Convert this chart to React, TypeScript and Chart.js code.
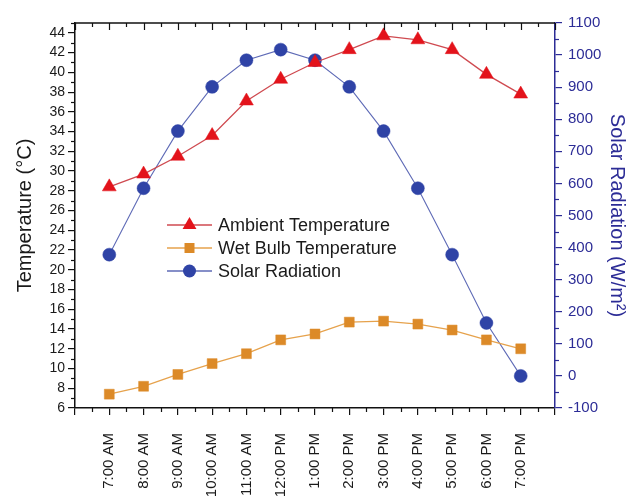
import React, { useEffect, useRef } from 'react';
import { Chart, registerables } from 'chart.js';

Chart.register(...registerables);

// ---- data ----
const timeLabels = ['7:00 AM', '8:00 AM', '9:00 AM', '10:00 AM', '11:00 AM', '12:00 PM', '1:00 PM', '2:00 PM', '3:00 PM', '4:00 PM', '5:00 PM', '6:00 PM', '7:00 PM'];
const ambientTemp = [28.4, 29.7, 31.5, 33.6, 37.1, 39.3, 41.0, 42.3, 43.7, 43.3, 42.3, 39.8, 37.8];
const wetBulbTemp = [7.4, 8.2, 9.4, 10.5, 11.5, 12.9, 13.5, 14.7, 14.8, 14.5, 13.9, 12.9, 12.0];
const solarRadiation = [378, 585, 763, 901, 984, 1017, 984, 901, 763, 585, 378, 165, 0];
const seriesNames = ['Ambient Temperature', 'Wet Bulb Temperature', 'Solar Radiation'];

const tempMin = 6;
const tempMax = 45;
const tempStep = 2;
const solarMin = -100;
const solarMax = 1100;
const solarStep = 100;
const xMin = -1;
const xMax = 13;

// ---- styles ----
const FONT = "'Liberation Sans', Arial, Helvetica, sans-serif";
const NAVY = '#2c2c96';
const RED = '#e3131b';
const RED_LINE = '#cf4a50';
const ORANGE = '#dc8a28';
const ORANGE_LINE = '#e6a24c';
const BLUE = '#2f43a6';
const BLUE_LINE = '#5e6ab6';

const seriesStyles = [
  { line: RED_LINE, fill: RED, shape: 'triangle' },
  { line: ORANGE_LINE, fill: ORANGE, shape: 'rect' },
  { line: BLUE_LINE, fill: BLUE, shape: 'circle' },
];

function drawMarker(ctx: CanvasRenderingContext2D, shape: string, x: number, y: number) {
  ctx.beginPath();
  if (shape === 'triangle') {
    const r = 8;
    ctx.moveTo(x, y - r);
    ctx.lineTo(x + r * 0.866, y + r * 0.5);
    ctx.lineTo(x - r * 0.866, y + r * 0.5);
    ctx.closePath();
  } else if (shape === 'rect') {
    ctx.rect(x - 5, y - 5, 10, 10);
  } else {
    ctx.arc(x, y, 6.5, 0, Math.PI * 2);
  }
  ctx.fill();
}

const framePlugin = {
  id: 'frameTicks',
  afterDraw(chart: any) {
    const { ctx, chartArea: a, scales } = chart;
    const xs = scales.x;
    const ys = scales.y;
    const y1 = scales.y1;
    const seg = (x1: number, yA: number, x2: number, yB: number) => {
      ctx.beginPath();
      ctx.moveTo(x1, yA);
      ctx.lineTo(x2, yB);
      ctx.stroke();
    };
    ctx.save();
    ctx.strokeStyle = '#111';
    ctx.lineWidth = 1.5;
    seg(a.left, a.top, a.right, a.top);
    ctx.lineWidth = 1.2;
    for (let i = xMin; i <= xMax + 0.001; i += 0.5) {
      const px = Math.round(xs.getPixelForValue(i)) + 0.5;
      const major = Math.abs(i - Math.round(i)) < 0.01;
      seg(px, a.top, px, a.top + (major ? 7 : 4));
      if (!major) seg(px, a.bottom, px, a.bottom + 4);
    }
    for (let v = tempMin + 1; v <= tempMax; v += tempStep) {
      const py = Math.round(ys.getPixelForValue(v)) + 0.5;
      seg(a.left - 4, py, a.left, py);
    }
    ctx.strokeStyle = NAVY;
    for (let v = solarMin + solarStep / 2; v < solarMax; v += solarStep) {
      const py = Math.round(y1.getPixelForValue(v)) + 0.5;
      seg(a.right, py, a.right + 4, py);
    }
    ctx.restore();
  },
};

const legendPlugin = {
  id: 'innerLegend',
  afterDraw(chart: any) {
    const { ctx, chartArea: a } = chart;
    ctx.save();
    const x0 = a.left + 92;
    const x1 = a.left + 137;
    const mx = (x0 + x1) / 2;
    const tx = a.left + 143;
    const rows = [a.top + 202, a.top + 225, a.top + 248];
    ctx.font = `18px ${FONT}`;
    ctx.textBaseline = 'middle';
    ctx.textAlign = 'left';
    seriesNames.forEach((name, i) => {
      const s = seriesStyles[i];
      const yy = rows[i];
      ctx.strokeStyle = s.line;
      ctx.lineWidth = 1.3;
      ctx.beginPath();
      ctx.moveTo(x0, yy);
      ctx.lineTo(x1, yy);
      ctx.stroke();
      ctx.fillStyle = s.fill;
      drawMarker(ctx, s.shape, mx, yy);
      ctx.fillStyle = '#1a1a1a';
      ctx.fillText(name, tx, yy + 1);
    });
    ctx.restore();
  },
};

export default function App() {
  const canvasRef = useRef<HTMLCanvasElement | null>(null);

  useEffect(() => {
    if (!canvasRef.current) return;
    const toPts = (arr: number[]) => arr.map((v, i) => ({ x: i, y: v }));
    const chart = new Chart(canvasRef.current, {
      type: 'line',
      data: {
        datasets: [
          {
            label: seriesNames[0],
            data: toPts(ambientTemp),
            yAxisID: 'y',
            borderColor: RED_LINE,
            borderWidth: 1.3,
            backgroundColor: RED,
            pointStyle: 'triangle',
            pointRadius: 8,
            pointBackgroundColor: RED,
            pointBorderColor: RED,
            pointBorderWidth: 0.5,
          },
          {
            label: seriesNames[1],
            data: toPts(wetBulbTemp),
            yAxisID: 'y',
            borderColor: ORANGE_LINE,
            borderWidth: 1.3,
            backgroundColor: ORANGE,
            pointStyle: 'rect',
            pointRadius: 7,
            pointBackgroundColor: ORANGE,
            pointBorderColor: ORANGE,
            pointBorderWidth: 0.5,
          },
          {
            label: seriesNames[2],
            data: toPts(solarRadiation),
            yAxisID: 'y1',
            borderColor: BLUE_LINE,
            borderWidth: 1.1,
            backgroundColor: BLUE,
            pointStyle: 'circle',
            pointRadius: 6.5,
            pointBackgroundColor: BLUE,
            pointBorderColor: BLUE,
            pointBorderWidth: 0.5,
          },
        ],
      },
      options: {
        responsive: false,
        animation: false,
        devicePixelRatio: 1,
        layout: { padding: { top: 11, left: 0, right: 0, bottom: 0 } },
        plugins: { legend: { display: false }, tooltip: { enabled: false } },
        scales: {
          x: {
            type: 'linear',
            min: xMin,
            max: xMax,
            afterFit: (s: any) => { s.height = 110; },
            grid: { display: true, drawOnChartArea: false, drawTicks: true, tickLength: 7, color: '#111', lineWidth: 1.2 },
            border: { display: true, color: '#111', width: 1.5 },
            ticks: {
              stepSize: 1,
              autoSkip: false,
              minRotation: 90,
              maxRotation: 90,
              padding: 18,
              color: '#1a1a1a',
              font: { family: FONT, size: 15 },
              callback: (v: any) => timeLabels[v as number] ?? '',
            },
          },
          y: {
            type: 'linear',
            position: 'left',
            min: tempMin,
            max: tempMax,
            afterFit: (s: any) => { s.width = 67; },
            grid: { display: true, drawOnChartArea: false, drawTicks: true, tickLength: 7, color: '#111', lineWidth: 1.2 },
            border: { display: true, color: '#111', width: 1.5 },
            ticks: {
              stepSize: tempStep,
              includeBounds: false,
              padding: 3,
              color: '#1a1a1a',
              font: { family: FONT, size: 14 },
              callback: (v: any) => String(v),
            },
            title: {
              display: true,
              text: 'Temperature (°C)',
              color: '#1a1a1a',
              font: { family: FONT, size: 20 },
              padding: { top: 5, bottom: 0 },
            },
          },
          y1: {
            type: 'linear',
            position: 'right',
            min: solarMin,
            max: solarMax,
            afterFit: (s: any) => { s.width = 77; },
            grid: { display: true, drawOnChartArea: false, drawTicks: true, tickLength: 7, color: NAVY, lineWidth: 1.2 },
            border: { display: true, color: NAVY, width: 1.5 },
            ticks: {
              stepSize: solarStep,
              padding: 6,
              color: NAVY,
              font: { family: FONT, size: 15 },
              callback: (v: any) => String(v),
            },
            title: {
              display: true,
              text: 'Solar Radiation (W/m²)',
              color: NAVY,
              font: { family: FONT, size: 20 },
              padding: { top: 3, bottom: 0 },
            },
          },
        },
      },
      plugins: [framePlugin, legendPlugin],
    } as any);
    return () => chart.destroy();
  }, []);

  return (
    <div style={{ width: 624, height: 490, overflow: 'hidden', background: '#fff' }}>
      <canvas ref={canvasRef} width={624} height={510} style={{ display: 'block' }} />
    </div>
  );
}
